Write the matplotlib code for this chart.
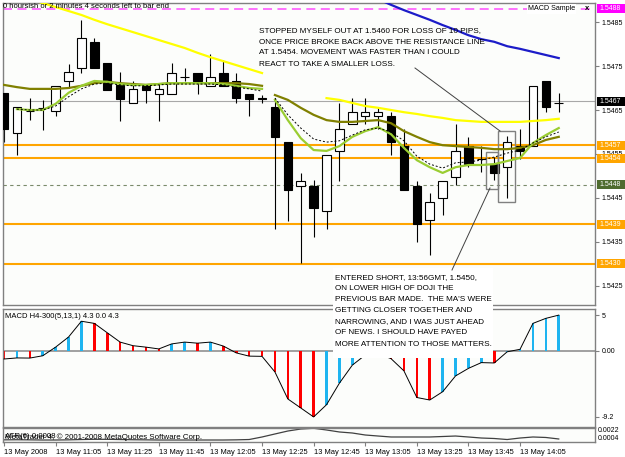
import numpy as np
import matplotlib.pyplot as plt
from matplotlib import font_manager
from matplotlib.patches import Rectangle
from matplotlib.lines import Line2D
from matplotlib.transforms import IdentityTransform

# 5 minute bars, 13 May 2008 (bar 0 = 10:45)
opens = [1.54689, 1.54598, 1.54648, 1.54655, 1.54648, 1.54716, 1.54745, 1.54805, 1.54757, 1.54707,
         1.54666, 1.54705, 1.54686, 1.54686, 1.54725, 1.54734, 1.54705, 1.54734, 1.54716, 1.54686,
         1.54677, 1.54657, 1.54577, 1.54477, 1.54477, 1.54420, 1.54557, 1.54618, 1.54636, 1.54636,
         1.54636, 1.54568, 1.54477, 1.54400, 1.54450, 1.54498, 1.54568, 1.54539, 1.54527, 1.54520,
         1.54568, 1.54568, 1.54716, 1.54666]
highs = [1.54689, 1.54657, 1.54677, 1.54673, 1.54705, 1.54755, 1.54855, 1.54814, 1.54757, 1.54736,
         1.54716, 1.54705, 1.54709, 1.54757, 1.54745, 1.54734, 1.54777, 1.54764, 1.54734, 1.54686,
         1.54684, 1.54677, 1.54577, 1.54507, 1.54491, 1.54548, 1.54666, 1.54677, 1.54677, 1.54657,
         1.54645, 1.54607, 1.54489, 1.54461, 1.54489, 1.54618, 1.54589, 1.54568, 1.54543, 1.54591,
         1.54607, 1.54705, 1.54716, 1.54689]
lows = [1.54577, 1.54548, 1.54627, 1.54605, 1.54636, 1.54700, 1.54734, 1.54745, 1.54695, 1.54625,
        1.54666, 1.54666, 1.54625, 1.54686, 1.54716, 1.54686, 1.54705, 1.54705, 1.54666, 1.54636,
        1.54666, 1.54380, 1.54398, 1.54302, 1.54361, 1.54380, 1.54489, 1.54618, 1.54618, 1.54607,
        1.54548, 1.54468, 1.54350, 1.54320, 1.54411, 1.54480, 1.54520, 1.54509, 1.54491, 1.54450,
        1.54539, 1.54568, 1.54645, 1.54645]
closes = [1.54607, 1.54657, 1.54648, 1.54655, 1.54705, 1.54736, 1.54814, 1.54745, 1.54695, 1.54675,
          1.54698, 1.54695, 1.54698, 1.54734, 1.54725, 1.54716, 1.54725, 1.54705, 1.54677, 1.54675,
          1.54675, 1.54589, 1.54468, 1.54489, 1.54427, 1.54548, 1.54607, 1.54645, 1.54645, 1.54645,
          1.54577, 1.54468, 1.54391, 1.54441, 1.54489, 1.54557, 1.54527, 1.54539, 1.54507, 1.54577,
          1.54557, 1.54705, 1.54657, 1.54666]

nan = np.nan
ma_yellow = [nan, nan, 1.54902, 1.54893, 1.54884, 1.54875, 1.54866, 1.54855, 1.54845, 1.54836,
             1.54827, 1.54818, 1.54809, 1.54800, 1.54791, 1.54780, 1.54770, 1.54761, 1.54752, 1.54743,
             1.54734, nan, nan, nan, nan, 1.54677, 1.54673, 1.54666, 1.54659, 1.54655,
             1.54650, 1.54645, 1.54641, 1.54636, 1.54632, 1.54627, 1.54625, 1.54623, 1.54623, 1.54623,
             1.54623, 1.54625, 1.54627, 1.54630]
ma_blue = [nan] * 29 + [1.54902, 1.54889, 1.54877, 1.54866, 1.54855, 1.54843, 1.54832, 1.54820,
                        1.54811, 1.54805, 1.54795, 1.54789, 1.54782, 1.54775, 1.54768]
ma_olive = [1.54707, 1.54702, 1.54698, 1.54698, 1.54698, 1.54700, 1.54705, 1.54711, 1.54714, 1.54711,
            1.54709, 1.54707, 1.54709, 1.54711, 1.54711, 1.54711, 1.54711, 1.54711, 1.54711, 1.54709,
            1.54705, 1.54684, 1.54673, 1.54655, 1.54639, 1.54627, 1.54623, 1.54623, 1.54625, 1.54627,
            1.54620, 1.54602, 1.54589, 1.54577, 1.54570, 1.54568, 1.54566, 1.54564, 1.54561, 1.54561,
            1.54564, 1.54570, 1.54582, 1.54589]
ma_green = [nan, 1.54652, 1.54650, 1.54650, 1.54664, 1.54689, 1.54705, 1.54716, 1.54714, 1.54709,
            1.54707, 1.54707, 1.54709, 1.54711, 1.54711, 1.54711, 1.54711, 1.54709, 1.54705, 1.54700,
            1.54698, 1.54673, 1.54627, 1.54586, 1.54559, 1.54557, 1.54568, 1.54589, 1.54602, 1.54611,
            1.54595, 1.54564, 1.54536, 1.54520, 1.54507, 1.54520, 1.54525, 1.54525, 1.54527, 1.54534,
            1.54541, 1.54575, 1.54593, 1.54609]
ma_dash = [nan, 1.54652, 1.54650, 1.54650, 1.54659, 1.54680, 1.54698, 1.54709, 1.54711, 1.54707,
           1.54705, 1.54705, 1.54707, 1.54709, 1.54709, 1.54709, 1.54709, 1.54707, 1.54702, 1.54698,
           1.54693, 1.54677, 1.54639, 1.54609, 1.54584, 1.54577, 1.54580, 1.54593, 1.54605, 1.54609,
           1.54600, 1.54580, 1.54545, 1.54527, 1.54518, 1.54530, 1.54532, 1.54536, 1.54543, 1.54552,
           1.54559, 1.54575, 1.54589, 1.54600]

macd = [-1.15, -1.0, -1.02, -0.7, 0.5, 1.9, 4.1, 3.8, 2.5, 1.2,
        0.7, 0.5, 0.25, 0.95, 1.2, 1.05, 1.2, 0.65, -0.3, -0.75,
        -0.78, -2.95, -6.7, -7.95, -9.2, -7.5, -4.5, -2.0, -0.6, -0.4,
        -1.1, -2.8, -6.5, -6.85, -5.7, -3.5, -2.45, -1.65, -1.7, -0.15,
        0.2, 3.8, 4.5, 4.95]

atr = [0.00040, 0.00042, 0.00040, 0.00037, 0.00037, 0.00040, 0.00046, 0.00050, 0.00050, 0.00046,
       0.00042, 0.00040, 0.00037, 0.00037, 0.00037, 0.00037, 0.00037, 0.00037, 0.00040, 0.00046,
       0.00093, 0.00149, 0.00204, 0.00241, 0.00255, 0.00223, 0.00186, 0.00167, 0.00130, 0.00111,
       0.00093, 0.00093, 0.00093, 0.00093, 0.00102, 0.00111, 0.00093, 0.00074, 0.00065, 0.00046,
       0.00074, 0.00093, 0.00084, 0.00056]

time_ticks = [0, 4, 8, 12, 16, 20, 24, 28, 32, 36, 40]
time_labels = ['13 May 2008', '13 May 11:05', '13 May 11:25', '13 May 11:45', '13 May 12:05',
               '13 May 12:25', '13 May 12:45', '13 May 13:05', '13 May 13:25', '13 May 13:45',
               '13 May 14:05']
price_ticks = [1.5425, 1.5435, 1.5445, 1.5455, 1.5465, 1.5475, 1.5485]

# horizontal price lines
orange_levels = [1.5457, 1.5454, 1.5439, 1.5430]
bid_level = 1.5467
magenta_level = 1.5488
dotted_level = 1.5448

# rectangles drawn on the chart: (bar from, bar to, price low, price high)
boxes = [(37.36, 38.29, 1.54471, 1.54555), (38.29, 39.61, 1.54441, 1.54602)]

top_note = ["STOPPED MYSELF OUT AT 1.5460 FOR LOSS OF 10 PIPS,",
            "ONCE PRICE BROKE BACK ABOVE THE RESISTANCE LINE",
            "AT 1.5454. MOVEMENT WAS FASTER THAN I COULD",
            "REACT TO TAKE A SMALLER LOSS."]
bottom_note = ["ENTERED SHORT, 13:56GMT, 1.5450,",
               "ON LOWER HIGH OF DOJI THE",
               "PREVIOUS BAR MADE.  THE MA'S WERE",
               "GETTING CLOSER TOGETHER AND",
               "NARROWING, AND I WAS JUST AHEAD",
               "OF NEWS. I SHOULD HAVE PAYED",
               "MORE ATTENTION TO THOSE MATTERS."]

# font: narrow if it is there
names = {f.name for f in font_manager.fontManager.ttflist}
if 'Liberation Sans Narrow' in names:
    plt.rcParams['font.family'] = 'Liberation Sans Narrow'
    K = 1.2
else:
    plt.rcParams['font.family'] = 'Liberation Sans'
    K = 1.0

W, H = 625, 457
fig = plt.figure(figsize=(W / 100, H / 100), dpi=100, facecolor='white')


def rect_px(x0, y0, x1, y1):
    return [x0 / W, 1 - y1 / H, (x1 - x0) / W, (y1 - y0) / H]


def ftext(x, y, s, size, **kw):
    kw.setdefault('va', 'center')
    kw.setdefault('ha', 'left')
    return fig.text(x / W, 1 - y / H, s, fontsize=size * K, **kw)


ax = fig.add_axes(rect_px(3, 3, 595, 305))
ax_macd = fig.add_axes(rect_px(3, 309, 595, 427))
ax_atr = fig.add_axes(rect_px(3, 428, 595, 442))

n = len(closes)
xs = np.arange(n)
xlim = (-0.078, 45.81)

for a in (ax, ax_macd, ax_atr):
    a.set_facecolor('#FCFDFB')
    a.set_xlim(*xlim)
    a.yaxis.tick_right()
    for sp in a.spines.values():
        sp.set_color('#808080')
        sp.set_linewidth(1.0)
    a.tick_params(axis='y', length=3, width=0.8, colors='#808080', labelcolor='black',
                  labelsize=5.0 * K, pad=2)

# ---- main price panel
ax.set_ylim(1.542068, 1.548932)
ax.set_xticks([])
ax.set_yticks(price_ticks)
ax.set_yticklabels(['%.4f' % p for p in price_ticks])

ax.axhline(magenta_level, color='#FF66FF', lw=1.3, dashes=(5, 3), zorder=1)
ax.axhline(bid_level, color='#A8A8A8', lw=0.8, zorder=1)
for lv in orange_levels:
    ax.axhline(lv, color='#FFA500', lw=1.5, zorder=1)
ax.axhline(dotted_level, color='#7A8A6A', lw=0.8, ls=(0, (3, 3)), zorder=1)

o = np.array(opens)
c = np.array(closes)
ax.vlines(xs, lows, highs, color='black', lw=0.8, zorder=2)
body_col = ['white' if cc >= oo else 'black' for oo, cc in zip(o, c)]
ax.bar(xs, np.abs(c - o), bottom=np.minimum(o, c), width=0.66, color=body_col,
       edgecolor='black', linewidth=0.8, zorder=3)

for x0, x1, p0, p1 in boxes:
    ax.add_patch(Rectangle((x0, p0), x1 - x0, p1 - p0, fill=False, ec='#808080', lw=1.0, zorder=4))

ax.plot(xs, ma_yellow, color='#FFFF00', lw=1.6, zorder=5)
ax.plot(xs, ma_blue, color='#1C1CC8', lw=1.6, zorder=5)
for lo, hi in ((0, 21), (21, n)):
    seg = xs[lo:hi]
    ax.plot(seg, ma_olive[lo:hi], color='#808000', lw=1.6, zorder=5)
    ax.plot(seg, ma_green[lo:hi], color='#9ACD32', lw=1.6, zorder=6)
    ax.plot(seg, ma_dash[lo:hi], color='black', lw=0.7, ls=(0, (2, 2)), zorder=6)

# ---- MACD panel
ax_macd.set_ylim(-10.6, 5.8)
ax_macd.set_xticks([])
ax_macd.set_yticks([4.95, 0, -9.2])
ax_macd.set_yticklabels(['5', '0.00', '-9.2'])
ax_macd.axhline(0, color='#A0A0A0', lw=1.4, zorder=1)
m = np.array(macd)
up = np.concatenate([[False], np.diff(m) > 0])
bar_col = ['#1EB4F0' if u else '#FF0000' for u in up]
ax_macd.bar(xs, m, width=0.2, color=bar_col, zorder=2)
ax_macd.plot(xs, m, color='black', lw=0.7, zorder=3)

# ---- ATR panel
ax_atr.set_ylim(0, 0.0026)
ax_atr.set_yticks([])
ax_atr.plot(xs, atr, color='#404040', lw=0.9)
ax_atr.set_xticks(time_ticks)
ax_atr.set_xticklabels(time_labels)
ax_atr.tick_params(axis='x', length=3, width=0.8, colors='#808080', labelcolor='black',
                   labelsize=5.4 * K, pad=2)
for lbl in ax_atr.get_xticklabels():
    lbl.set_ha('left')


# ---- coloured price labels on the right
def label_box(a, value, text, bg):
    y = a.transData.transform((0, value))[1]
    fig.add_artist(Rectangle((597, y - 4.5), 28, 9, transform=IdentityTransform(),
                             facecolor=bg, edgecolor='none', zorder=5))
    fig.text(599 / W, y / H, text, color='white', fontsize=5.0 * K, va='center', ha='left', zorder=6)


label_box(ax, magenta_level, '%.4f' % magenta_level, '#FF00FF')
label_box(ax, bid_level, '%.4f' % bid_level, 'black')
for lv in orange_levels:
    label_box(ax, lv, '%.4f' % lv, '#FFA500')
label_box(ax, dotted_level, '%.4f' % dotted_level, '#4F6B2F')

# ---- texts
ftext(3, 7, '0 hoursish or 2 minutes 4 seconds left to bar end', 5.5, zorder=2)
ftext(528, 9, 'MACD Sample', 5.1, bbox=dict(facecolor='white', edgecolor='none', pad=0.8))
ftext(585, 9, 'x', 5.5, fontweight='bold')
ftext(5, 316, 'MACD H4-300(5,13,1) 4.3 0.0 4.3', 5.5)
ftext(5, 437, 'ATR(6) 0.0008', 5.7)
ftext(5, 437, 'MetaTrader 4, \u00a9 2001-2008 MetaQuotes Software Corp.', 5.7)
ftext(598, 431, '0.0022', 5.0)
ftext(598, 438, '0.0004', 5.0)

for i, line in enumerate(top_note):
    ftext(259, 31 + 11 * i, line, 5.9, zorder=7)

fig.add_artist(Rectangle((333 / W, 1 - 358 / H), 160 / W, 90 / H, transform=fig.transFigure,
                         facecolor='white', edgecolor='none', zorder=5))
for i, line in enumerate(bottom_note):
    ftext(335, 277.5 + 11.1 * i, line, 5.9, zorder=7)

fig.add_artist(Line2D([415 / W, 500 / W], [1 - 68 / H, 1 - 131 / H], color='#404040', lw=0.7, zorder=7))
fig.add_artist(Line2D([452 / W, 490 / W], [1 - 270 / H, 1 - 188 / H], color='#404040', lw=0.7, zorder=7))

fig.savefig('out.png', dpi=100, facecolor='white')
